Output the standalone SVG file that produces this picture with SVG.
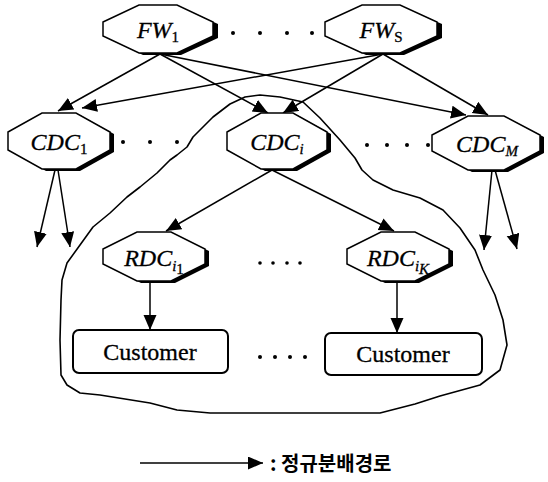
<svg xmlns="http://www.w3.org/2000/svg" width="548" height="482" viewBox="0 0 548 482">
<style>
.oct{fill:#fff;stroke:#000;stroke-width:1.5;stroke-linejoin:miter}
.sh{fill:#000}
.lbl{font-family:'Liberation Serif','DejaVu Serif',serif;font-style:italic;font-size:24px;fill:#000;stroke:#000;stroke-width:0.3;text-anchor:middle}
.sub{font-style:normal;font-size:15px}
.isub{font-style:italic;font-size:15px}
.cust{font-family:'Liberation Serif','DejaVu Serif',serif;font-size:24px;fill:#000;stroke:#000;stroke-width:0.3;text-anchor:middle}
.box{fill:#fff;stroke:#000;stroke-width:2}
.ln{stroke:#000;stroke-width:1.5;fill:none}
.blob{stroke:#000;stroke-width:1.6;fill:none;stroke-linejoin:round}
.dot{fill:#000}
.leg{font-family:'Noto Sans CJK KR','Noto Sans',sans-serif;font-weight:bold;font-size:20px;fill:#000}
</style>
<defs>
<marker id="ah" markerUnits="userSpaceOnUse" markerWidth="16" markerHeight="14" refX="15" refY="6.5" orient="auto">
<path d="M0,0 L15,6.5 L0,13 z" fill="#000"/>
</marker>
</defs>

<path class="blob" d="M303,102 L320,118 L340,140 L355,158 L362,170 L373,180 L393,190 L420,198 L443,210 L460,228 L475,250 L483,270 L495,295 L503,320 L507,345 L500,370 L480,385 L440,396 L415,404 L380,413 L210,413 L177,410 L150,403 L100,395 L80,393 L67,385 L61,375 L60,340 L61,300 L62,280 L67,263 L80,245 L93,227 L110,213 L127,197 L140,187 L157,173 L170,160 L177,155 L187,147 L193,137 L213,117 L230,104 L245,97 L260,95 L280,97 Z"/>

<g id="connectors">
<line class="ln" x1="160" y1="54" x2="58" y2="111" marker-end="url(#ah)"/>
<line class="ln" x1="160" y1="54" x2="268" y2="113" marker-end="url(#ah)"/>
<line class="ln" x1="160" y1="54" x2="466" y2="115" marker-end="url(#ah)"/>
<line class="ln" x1="383" y1="54" x2="82" y2="108" marker-end="url(#ah)"/>
<line class="ln" x1="383" y1="54" x2="283" y2="113" marker-end="url(#ah)"/>
<line class="ln" x1="383" y1="54" x2="488" y2="115" marker-end="url(#ah)"/>
<line class="ln" x1="272" y1="170" x2="166" y2="231" marker-end="url(#ah)"/>
<line class="ln" x1="272" y1="170" x2="394" y2="231" marker-end="url(#ah)"/>
<line class="ln" x1="55" y1="170" x2="37" y2="247" marker-end="url(#ah)"/>
<line class="ln" x1="58" y1="170" x2="70" y2="247" marker-end="url(#ah)"/>
<line class="ln" x1="492" y1="170" x2="484" y2="250" marker-end="url(#ah)"/>
<line class="ln" x1="495" y1="170" x2="517" y2="249" marker-end="url(#ah)"/>
<line class="ln" x1="150" y1="282" x2="150" y2="330" marker-end="url(#ah)"/>
<line class="ln" x1="397" y1="282" x2="397" y2="333" marker-end="url(#ah)"/>
</g>

<g id="FW1">
<polygon class="sh" points="107,24 143,7 181,7 218,24 218,38 181,55 143,55 107,38"/>
<polygon class="oct" points="103,22 139,5 177,5 213,22 213,36 177,53 139,53 103,36"/>
<text class="lbl" x="158" y="38">FW<tspan class="sub" dy="4">1</tspan></text>
</g>
<g id="FWS">
<polygon class="sh" points="329,24 366,7 404,7 442,24 442,38 404,55 366,55 329,38"/>
<polygon class="oct" points="325,22 362,5 400,5 437,22 437,36 400,53 362,53 325,36"/>
<text class="lbl" x="381" y="38">FW<tspan class="sub" dy="4">S</tspan></text>
</g>
<g id="fwdots">
<circle class="dot" cx="233" cy="33" r="2"/><circle class="dot" cx="260" cy="33" r="2"/><circle class="dot" cx="287" cy="33" r="2"/><circle class="dot" cx="312" cy="33" r="2"/>
</g>

<g id="CDC1">
<polygon class="sh" points="12,134 46,115 80,115 114,134 114,152 80,171 46,171 12,152"/>
<polygon class="oct" points="8,132 42,113 76,113 110,132 110,150 76,169 42,169 8,150"/>
<text class="lbl" x="59" y="150">CDC<tspan class="sub" dy="4">1</tspan></text>
</g>
<g id="CDCi">
<polygon class="sh" points="231,134 265,115 297,115 331,134 331,152 297,171 265,171 231,152"/>
<polygon class="oct" points="227,132 261,113 293,113 327,132 327,150 293,169 261,169 227,150"/>
<text class="lbl" x="277" y="150">CDC<tspan class="isub" dy="4">i</tspan></text>
</g>
<g id="CDCM">
<polygon class="sh" points="436,137 472,118 508,118 544,137 544,153 508,172 472,172 436,153"/>
<polygon class="oct" points="432,135 468,116 504,116 540,135 540,151 504,170 468,170 432,151"/>
<text class="lbl" x="487" y="152">CDC<tspan class="isub" dy="4" font-size="13">M</tspan></text>
</g>
<g id="cdcdots">
<circle class="dot" cx="123" cy="142" r="2"/><circle class="dot" cx="150" cy="142" r="2"/><circle class="dot" cx="177" cy="142" r="2"/>
<circle class="dot" cx="367" cy="145" r="2"/><circle class="dot" cx="387" cy="145" r="2"/><circle class="dot" cx="407" cy="145" r="2"/><circle class="dot" cx="428" cy="145" r="2"/>
</g>

<g id="RDCi1">
<polygon class="sh" points="107,251 141,234 175,234 209,251 209,266 175,283 141,283 107,266"/>
<polygon class="oct" points="103,249 137,232 171,232 205,249 205,264 171,281 137,281 103,264"/>
<text class="lbl" x="154" y="266">RDC<tspan class="isub" dy="5">i</tspan><tspan class="sub" font-size="10" dy="3">1</tspan></text>
</g>
<g id="RDCiK">
<polygon class="sh" points="351,251 385,234 419,234 453,251 453,266 419,283 385,283 351,266"/>
<polygon class="oct" points="347,249 381,232 415,232 449,249 449,264 415,281 381,281 347,264"/>
<text class="lbl" x="398" y="266">RDC<tspan class="isub" dy="5">i</tspan><tspan class="isub" font-size="10" dy="3">K</tspan></text>
</g>
<g id="rdcdots">
<circle class="dot" cx="260" cy="263" r="1.8"/><circle class="dot" cx="273" cy="263" r="1.8"/><circle class="dot" cx="287" cy="263" r="1.8"/><circle class="dot" cx="300" cy="263" r="1.8"/>
</g>

<g id="Customer1">
<rect class="box" x="73" y="330" width="155" height="43" rx="6"/>
<text class="cust" x="150" y="360">Customer</text>
</g>
<g id="Customer2">
<rect class="box" x="325" y="333" width="157" height="42" rx="6"/>
<text class="cust" x="403" y="362">Customer</text>
</g>
<g id="custdots">
<circle class="dot" cx="260" cy="357" r="2"/><circle class="dot" cx="275" cy="357" r="2"/><circle class="dot" cx="290" cy="357" r="2"/><circle class="dot" cx="305" cy="357" r="2"/>
</g>

<g id="legend">
<line class="ln" x1="140" y1="463" x2="263" y2="463" marker-end="url(#ah)"/>
<text class="leg" x="270" y="471">: 정규분배경로</text>
</g>
</svg>
